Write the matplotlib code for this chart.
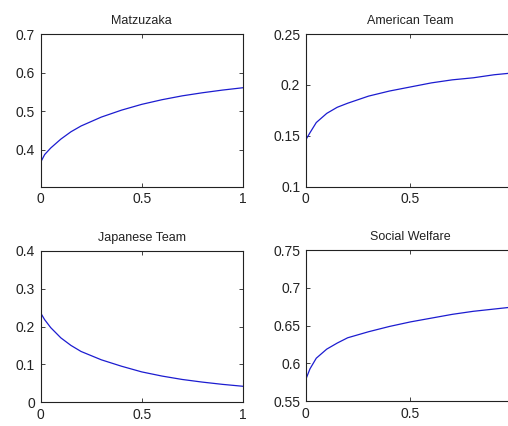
import matplotlib
matplotlib.use("Agg")
import matplotlib.pyplot as plt

plt.rcParams['font.family'] = ['Liberation Sans', 'DejaVu Sans']

# values
x = [0, 0.02, 0.05, 0.1, 0.15, 0.2, 0.3, 0.4, 0.5, 0.6, 0.7, 0.8, 0.9, 1.0]
matzuzaka = [0.368, 0.388, 0.405, 0.428, 0.447, 0.462, 0.485, 0.503, 0.518, 0.530, 0.540, 0.548, 0.555, 0.561]
american = [0.146, 0.153, 0.163, 0.172, 0.178, 0.182, 0.189, 0.194, 0.198, 0.202, 0.205, 0.207, 0.210, 0.212]
japanese = [0.236, 0.218, 0.197, 0.170, 0.150, 0.134, 0.112, 0.095, 0.080, 0.069, 0.060, 0.053, 0.047, 0.042]
welfare = [0.579, 0.593, 0.607, 0.619, 0.627, 0.634, 0.642, 0.649, 0.655, 0.660, 0.665, 0.669, 0.672, 0.675]

titles = ["Matzuzaka", "American Team", "Japanese Team", "Social Welfare"]
series = [matzuzaka, american, japanese, welfare]
ylims = [(0.305, 0.7), (0.1, 0.25), (0, 0.4), (0.55, 0.75)]
yticks = [[0.4, 0.5, 0.6, 0.7], [0.1, 0.15, 0.2, 0.25],
          [0, 0.1, 0.2, 0.3, 0.4], [0.55, 0.6, 0.65, 0.7, 0.75]]
ylabels = [["0.4", "0.5", "0.6", "0.7"], ["0.1", "0.15", "0.2", "0.25"],
           ["0", "0.1", "0.2", "0.3", "0.4"], ["0.55", "0.6", "0.65", "0.7", "0.75"]]
# right column is cropped in the original, its "1" label is not shown
xlabels = [["0", "0.5", "1"], ["0", "0.5", ""], ["0", "0.5", "1"], ["0", "0.5", ""]]

# axes rectangles in figure fraction [left, bottom, width, height]
rects = [[0.080, 0.562, 0.398, 0.358],
         [0.602, 0.562, 0.412, 0.358],
         [0.080, 0.056, 0.398, 0.355],
         [0.602, 0.058, 0.412, 0.355]]

fig = plt.figure(figsize=(5.08, 4.26), dpi=100)

for i in range(4):
    ax = fig.add_axes(rects[i])
    ax.plot(x, series[i], color="#1c1cd0", lw=0.9)
    ax.set_xlim(0, 1)
    ax.set_ylim(*ylims[i])
    ax.set_xticks([0, 0.5, 1])
    ax.set_xticklabels(xlabels[i])
    ax.set_yticks(yticks[i])
    ax.set_yticklabels(ylabels[i])
    ax.set_title(titles[i], fontsize=9, pad=7, color="#222222")
    ax.tick_params(direction="in", length=3, width=0.6, top=True, right=True,
                   labelsize=10, colors="#222222")
    ax.tick_params(axis="x", pad=4)
    ax.tick_params(axis="y", pad=4)
    for s in ax.spines.values():
        s.set_linewidth(0.8)
        s.set_color("#222222")

fig.savefig("out.png", dpi=100)
